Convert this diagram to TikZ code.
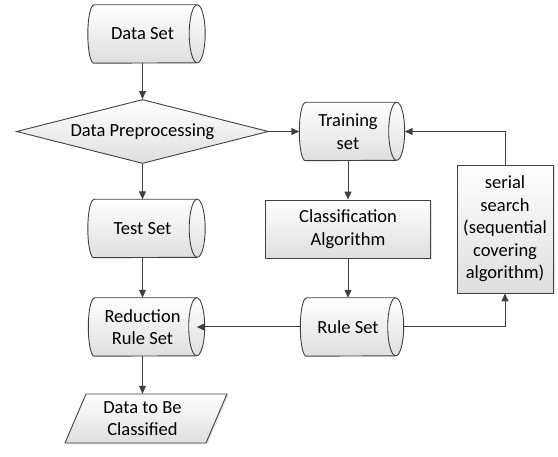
\documentclass[tikz,border=0pt]{standalone}
\usepackage{fontspec}
\setmainfont{Carlito}
\usetikzlibrary{arrows.meta,shapes.geometric,backgrounds,shadows}
\definecolor{lc}{HTML}{404040}
\definecolor{fillb}{HTML}{DEDEDE}
\tikzset{
  txt/.style={font=\fontsize{18.5pt}{22.5pt}\selectfont, align=center, inner sep=0pt, text=black},
  cylbox/.style={txt, minimum height=58pt},
  sh/.style={draw=lc, line width=0.9pt, top color=white, bottom color=fillb},
  shd/.style={drop shadow={shadow xshift=1.5pt, shadow yshift=-1.5pt, fill=black!10, opacity=1}},
  rectbox/.style={txt, sh, shd, rectangle},
  conn/.style={draw=lc, line width=1pt},
  arr/.style={conn, -{Triangle[length=8pt,width=7pt]}},
}
\newcommand\cylshape[1]{%
  \path[sh] ([xshift=6pt]#1.north west) -- (#1.north east)
     arc[start angle=90, end angle=-90, x radius=8pt, y radius=29pt]
     -- ([xshift=6pt]#1.south west)
     arc[start angle=270, end angle=90, x radius=6pt, y radius=29pt] -- cycle;
  \draw[draw=lc, line width=0.9pt] (#1.north east)
     arc[start angle=90, end angle=270, x radius=8pt, y radius=29pt];
}
\begin{document}
\begin{tikzpicture}[x=1pt, y=-1pt]
\useasboundingbox (0,0) rectangle (558,457);
% nodes
\node[cylbox, minimum width=109pt] (dataset) at (142.5,34) {Data Set};
\node[txt, sh, diamond, aspect=3.94, minimum width=252pt, minimum height=64pt] (prep) at (142.5,131.5) {Data Preprocessing};
\node[cylbox, minimum width=97pt] (train) at (348,131.5) {Training\\set};
\node[cylbox, minimum width=109pt] (test) at (142.5,228.5) {Test Set};
\node[rectbox, minimum width=165pt, minimum height=58pt] (classif) at (348,229) {Classification\\Algorithm};
\node[rectbox, minimum width=96pt, minimum height=128pt] (serial) at (505,229) {serial\\search\\(sequential\\covering\\algorithm)};
\node[cylbox, minimum width=108pt] (reduce) at (142.5,327) {Reduction\\Rule Set};
\node[cylbox, minimum width=95pt] (ruleset) at (348,327) {Rule Set};
\node[txt, minimum width=120pt, minimum height=49pt] (out) at (142.5,418.5) {Data to Be\\Classified};
% shapes behind text
\begin{pgfonlayer}{background}
  \cylshape{dataset}
  \cylshape{train}
  \cylshape{test}
  \cylshape{reduce}
  \cylshape{ruleset}
  \fill[black!10] (87.5,395.5) -- (228.5,395.5) -- (207.5,444.5) -- (66.5,444.5) -- cycle;
  \path[sh] (86,394) -- (227,394) -- (206,443) -- (65,443) -- cycle;
\end{pgfonlayer}
% connectors
\draw[arr] (dataset.south) -- (prep.north);
\draw[arr] (prep.east) -- (train.west);
\draw[arr] (prep.south) -- (test.north);
\draw[arr] (test.south) -- (reduce.north);
\draw[arr] (reduce.south) -- (out.north);
\draw[arr] (train.south) -- (classif.north);
\draw[arr] (classif.south) -- (ruleset.north);
\draw[arr] (ruleset.west) -- (reduce.east);
\draw[arr] ([xshift=8pt]ruleset.east) -| (serial.south);
\draw[arr] (serial.north) |- ([xshift=8pt]train.east);
\end{tikzpicture}
\end{document}
